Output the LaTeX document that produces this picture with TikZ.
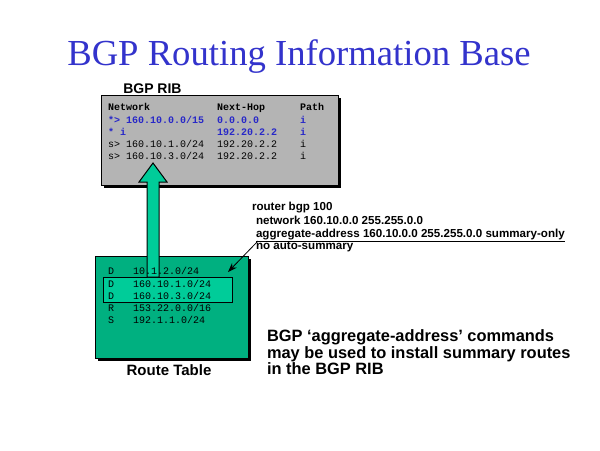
\documentclass[tikz,border=0pt]{standalone}
\usepackage{fontspec}
\setmainfont{Liberation Sans}
\newfontfamily\titlefont{Liberation Serif}
\newfontfamily\monofont{Liberation Mono}
\usetikzlibrary{arrows.meta}
\definecolor{titleblue}{RGB}{51,51,204}
\definecolor{ribgray}{RGB}{180,180,180}
\definecolor{rtgreen}{RGB}{0,176,128}
\definecolor{hlgreen}{RGB}{0,204,153}
\definecolor{ribblue}{RGB}{40,40,200}
\begin{document}
\begin{tikzpicture}[x=0.75pt,y=-0.75pt,
  txt/.style={inner sep=0pt,outer sep=0pt,anchor=base west},
  mono/.style={txt,font=\monofont\fontsize{7.5}{9}\selectfont},
  monob/.style={mono,font=\monofont\bfseries\fontsize{7.5}{9}\selectfont,text=ribblue},
  monoh/.style={mono,font=\monofont\bfseries\fontsize{7.5}{9}\selectfont},
  cmd/.style={txt,font=\bfseries\fontsize{8.7}{10}\selectfont},
  note/.style={txt,font=\bfseries\fontsize{12.3}{14}\selectfont},
  lbl/.style={inner sep=0pt,font=\bfseries\fontsize{10.5}{12}\selectfont},
  panel/.style={draw=black,line width=0.75pt},
  shadow/.style={fill=black}]
\useasboundingbox[fill=white] (0,0) rectangle (600,450);

% title
\node[inner sep=0pt,anchor=base,font=\titlefont\fontsize{27.5}{30}\selectfont,text=titleblue] (title) at (299,65) {BGP Routing Information Base};

% BGP RIB panel
\node[lbl,anchor=base west] (riblbl) at (123,93) {BGP RIB};
\fill[shadow] (104,98) rectangle (341,188);
\draw[panel,fill=ribgray] (101,95) rectangle (338,185);

% Route table panel
\fill[shadow] (98,259) rectangle (251,361);
\draw[panel,fill=rtgreen] (95,256) rectangle (248,358);
\draw[panel,fill=hlgreen] (103,277) rectangle (232,302);
\node[lbl,anchor=base,font=\bfseries\fontsize{11.25}{13}\selectfont] (rtlbl) at (169,375) {Route Table};

% block arrow from route table to RIB
\coordinate (tip) at (153,163);
\draw[panel,fill=hlgreen,line join=miter]
  (tip) -- (167,182) -- (159,182) -- (159,277) -- (147,277) -- (147,182) -- (139,182) -- cycle;

% RIB contents
\node[monoh] (h1) at (108,110) {Network};
\node[monoh] (h2) at (217,110) {Next-Hop};
\node[monoh] (h3) at (300,110) {Path};
\node[monob] (r1a) at (108,123) {*> 160.10.0.0/15};
\node[monob] (r1b) at (217,123) {0.0.0.0};
\node[monob] (r1c) at (300,123) {i};
\node[monob] (r2a) at (108,135) {* i};
\node[monob] (r2b) at (217,135) {192.20.2.2};
\node[monob] (r2c) at (300,135) {i};
\node[mono] (r3a) at (108,147) {s> 160.10.1.0/24};
\node[mono] (r3b) at (217,147) {192.20.2.2};
\node[mono] (r3c) at (300,147) {i};
\node[mono] (r4a) at (108,159) {s> 160.10.3.0/24};
\node[mono] (r4b) at (217,159) {192.20.2.2};
\node[mono] (r4c) at (300,159) {i};

% Route table contents
\node[mono] (t1a) at (108,274) {D};
\node[mono] (t1b) at (133,274) {10.1.2.0/24};
\node[mono] (t2a) at (108,287) {D};
\node[mono] (t2b) at (133,287) {160.10.1.0/24};
\node[mono] (t3a) at (108,299) {D};
\node[mono] (t3b) at (133,299) {160.10.3.0/24};
\node[mono] (t4a) at (108,311) {R};
\node[mono] (t4b) at (133,311) {153.22.0.0/16};
\node[mono] (t5a) at (108,323) {S};
\node[mono] (t5b) at (133,323) {192.1.1.0/24};

% router config
\node[cmd] (c1) at (252,210) {router bgp 100};
\node[cmd] (c2) at (256,224) {network 160.10.0.0 255.255.0.0};
\node[cmd] (c3) at (256,237) {aggregate-address 160.10.0.0 255.255.0.0 summary-only};
\node[cmd] (c4) at (256,249) {no auto-summary};
\coordinate (ulA) at (256,241);
\coordinate (ulB) at (565,241);
\coordinate (ulS) at (258,241);
\coordinate (ptr) at (228,272);
\draw[line width=0.75pt] (ulA) -- (ulB);
\draw[line width=0.6pt,-{Stealth[length=7pt,width=5pt]}] (ulS) -- (ptr);

% note
\node[note] (n1) at (267,341) {BGP ‘aggregate-address’ commands};
\node[note] (n2) at (267,358) {may be used to install summary routes};
\node[note] (n3) at (267,374) {in the BGP RIB};
\end{tikzpicture}
\end{document}
